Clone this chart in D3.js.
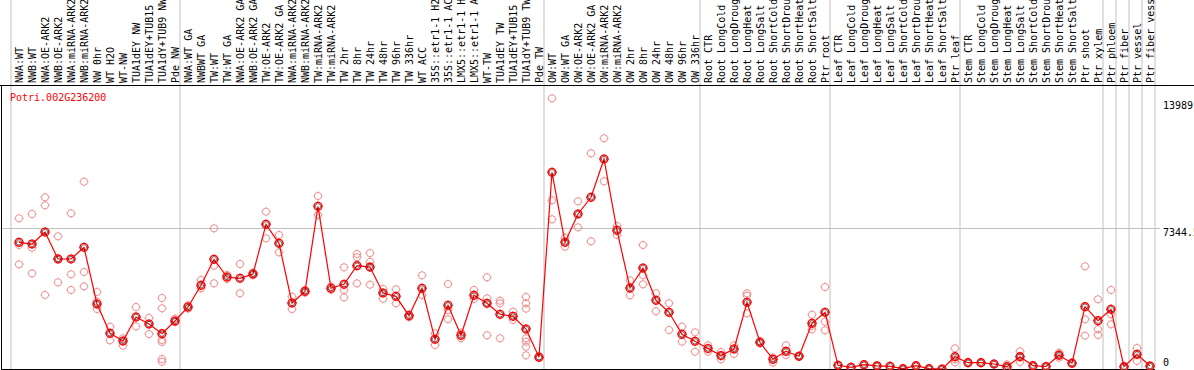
<!DOCTYPE html>
<html>
<head>
<meta charset="utf-8">
<script src="https://cdn.jsdelivr.net/npm/d3@7"></script>
<style>
  body { margin: 0; background: #fff; }
  text { font-family: "DejaVu Sans Mono", "Liberation Mono", monospace; font-size: 10px; }
</style>
</head>
<body>
<div id="wrapper"></div>
<script>
// gen naam en de kolommen (monsters)
const geneName = "Potri.002G236200";

const categories = [
  "NWA:WT", "NWB:WT", "NWA:OE-ARK2", "NWB:OE-ARK2", "NWA:miRNA-ARK2", "NWB:miRNA-ARK2",
  "NW 0hr", "WT H2O", "WT-NW", "TUA1dEY NW", "TUA1dEY+TUB15 NW", "TUA1dY+TUB9 NW", "Pde NW",
  "NWA:WT GA", "NWBWT GA", "TW:WT", "TW:WT GA", "NWA:OE-ARK2 GA", "NWB:OE-ARK2 GA",
  "TW:OE-ARK2", "TW:OE-ARK2 GA", "NWA:miRNA-ARK2 GA", "NWB:miRNA-ARK2 GA", "TW:miRNA-ARK2",
  "TW:miRNA-ARK2 GA", "TW 2hr", "TW 8hr", "TW 24hr", "TW 48hr", "TW 96hr", "TW 336hr",
  "WT ACC", "35S::etr1-1 H2O", "35S::etr1-1 ACC", "LMX5::etr1-1 H2O", "LMX5::etr1-1 ACC",
  "WT-TW", "TUA1dEY TW", "TUA1dEY+TUB15 TW", "TUA1dY+TUB9 TW", "Pde TW",
  "OW:WT", "OW:WT GA", "OW:OE-ARK2", "OW:OE-ARK2 GA", "OW:miRNA-ARK2", "OW:miRNA-ARK2 GA",
  "OW 2hr", "OW 8hr", "OW 24hr", "OW 48hr", "OW 96hr", "OW 336hr",
  "Root CTR", "Root LongCold", "Root LongDrought", "Root LongHeat", "Root LongSalt",
  "Root ShortCold", "Root ShortDrought", "Root ShortHeat", "Root ShortSalt", "Ptr root",
  "Leaf CTR", "Leaf LongCold", "Leaf LongDrought", "Leaf LongHeat", "Leaf LongSalt",
  "Leaf ShortCold", "Leaf ShortDrought", "Leaf ShortHeat", "Leaf ShortSalt", "Ptr leaf",
  "Stem CTR", "Stem LongCold", "Stem LongDrought", "Stem LongHeat", "Stem LongSalt",
  "Stem ShortCold", "Stem ShortDrought", "Stem ShortHeat", "Stem ShortSalt",
  "Ptr shoot", "Ptr xylem", "Ptr phloem", "Ptr fiber", "Ptr vessel", "Ptr fiber vessel"
];

// kolommen waar een verticale scheidingslijn begint
const groupStarts = ["NWA:WT", "NWA:WT GA", "OW:WT", "Root CTR", "Leaf CTR", "Stem CTR",
  "Ptr phloem", "Ptr fiber", "Ptr vessel", "Ptr fiber vessel"];

// gemiddelde expressie per kolom
const means = [
  6614, 6525, 7151, 5742, 5742, 6353, 3393, 1863, 1462, 2714, 2349, 1843, 2506,
  3236, 4369, 5726, 4802, 4734, 4959, 7553, 6561, 3445, 4054, 8492, 4212, 4421, 5392, 5320,
  3967, 3795, 2782, 4212, 1550, 3325, 1759, 3847, 3429, 2855, 2751, 2088, 615,
  10268, 6614, 8091, 8963, 10962, 7240, 4228, 5272, 3586, 2960, 1811, 1446,
  1070, 700, 1044, 3482, 1394, 506, 924, 663, 2386, 2960,
  193, 89, 224, 165, 141, 16, 172, 16, 0, 642,
  329, 329, 261, 120, 642, 172, 130, 720, 305,
  3252, 2521, 3116, 120, 767, 157
];

// losse replicaten per kolom
const replicates = [
  [7866, 6473, 5465], [8091, 6332, 4995], [8963, 8545, 3863], [6927, 5773, 4526],
  [8127, 4943, 4124], [9777, 5063, 4317], [4019, 3515, 3132], [2208, 1498], [1603, 1216],
  [3236, 2229], [2662, 1827], [3706, 3168, 1514, 1409, 522, 381], [2626, 2450],
  [3325, 3150], [4646, 4213], [7344, 5392, 4473], [4907, 4700], [5481, 3951], [5029, 4900],
  [8211, 6822], [6995, 6091], [3774, 3132], [4124, 3980], [9031, 8039], [4300, 4130],
  [5309, 4124, 3743], [6003, 5831, 4473], [6050, 5590, 4400], [4176, 3670], [4160, 3429],
  [2850, 2700], [4891, 3863], [1863, 1253], [4437, 3080, 2594], [1603, 1900], [4124, 3654],
  [4787, 3690, 1759], [3565, 3429, 1603], [2991, 2558],
  [3758, 3429, 3148, 1603, 1425, 1164, 715], [650, 580],
  [14131, 8806, 7814], [6854, 6384], [8754, 7397], [11260, 6666], [12043, 9798], [7465, 6995],
  [4630, 3847], [6473, 4891, 4421], [3951, 3012], [3429, 2036], [2208, 1425], [1916, 903],
  [1237, 903], [887, 506], [1237, 783], [3951, 3827, 2907], [1450, 1340], [329, 600],
  [1237, 731], [663, 700], [2835, 2072, 2250], [4280, 2469, 2020],
  [193], [89], [224], [165], [141], [16], [172], [16], [0], [1080, 350, 500],
  [329], [329], [261], [245, 50], [924, 365, 640], [172], [130], [851, 590, 720], [305],
  [5361, 2594, 1738], [3638, 2072, 1775], [4124, 2855, 2333], [120], [1096, 418], [157]
];

// y-as labels
const yTickValues = [0, 7344.5, 13989];
const yTickLabels = ["0", "7344.5", "13989"];
const yGridValues = [7344.5];

const width = 1194;
const height = 370;
const headerBottom = 85;
const plotBottom = 369;

const svg = d3.select("#wrapper")
  .append("svg")
  .attr("width", width)
  .attr("height", height);

const x = d3.scaleBand()
  .domain(categories)
  .range([11, 11 + categories.length * 13])
  .padding(0);

const y = d3.scaleLinear()
  .domain([0, 13989])
  .range([plotBottom, 101]);

// punt net rechts van het midden van de band
const cx = d => x(d) + x.bandwidth() / 2 + 1.5;

// verticale scheidingslijnen (ook door de kop)
const gridXs = groupStarts.map(c => x(c)).concat([x.range()[1]]);
svg.append("g")
  .selectAll("line")
  .data(gridXs)
  .join("line")
    .attr("x1", d => d).attr("x2", d => d)
    .attr("y1", 0).attr("y2", plotBottom)
    .attr("stroke", "#c0c0c0")
    .attr("stroke-width", 1);

// horizontale lijn
svg.append("g")
  .selectAll("line")
  .data(yGridValues)
  .join("line")
    .attr("x1", 1).attr("x2", 1160)
    .attr("y1", d => Math.round(y(d)) + 0.5).attr("y2", d => Math.round(y(d)) + 0.5)
    .attr("stroke", "#c0c0c0");

// kaderlijnen
svg.append("line").attr("x1", 0).attr("x2", width).attr("y1", headerBottom + 0.5).attr("y2", headerBottom + 0.5).attr("stroke", "#000");
svg.append("line").attr("x1", 1.5).attr("x2", 1.5).attr("y1", headerBottom).attr("y2", plotBottom + 1).attr("stroke", "#000");
svg.append("line").attr("x1", 1).attr("x2", x.range()[1]).attr("y1", plotBottom + 0.5).attr("y2", plotBottom + 0.5).attr("stroke", "#000");

// kolomnamen, gedraaid (bovenkant valt weg, net als in het origineel)
svg.append("g")
  .selectAll("text")
  .data(categories)
  .join("text")
    .attr("transform", d => `translate(${cx(d) + 3.5},83) rotate(-90)`)
    .attr("fill", "#000")
    .text(d => d);

// titel
svg.append("text")
  .attr("x", 10).attr("y", 101)
  .attr("fill", "#ff0000")
  .text(geneName);

// y labels rechts
svg.append("g")
  .selectAll("text")
  .data(yTickValues)
  .join("text")
    .attr("x", 1163)
    .attr("y", d => d === 0 ? plotBottom - 3 : y(d) + 8)
    .attr("fill", "#000")
    .text((d, i) => yTickLabels[i]);

// markers met kleine streepjes
const marker = (g, r, color, sw) => {
  g.append("circle").attr("r", r).attr("fill", "none").attr("stroke", color).attr("stroke-width", sw);
  [[0, -1], [0, 1], [-1, 0], [1, 0]].forEach(([dx, dy]) => {
    g.append("line")
      .attr("x1", dx * r).attr("y1", dy * r)
      .attr("x2", dx * (r + 1)).attr("y2", dy * (r + 1))
      .attr("stroke", color).attr("stroke-width", 0.9);
  });
};

const repData = categories.flatMap((c, i) => replicates[i].map(v => ({ c, v })));
svg.append("g")
  .selectAll("g")
  .data(repData)
  .join("g")
    .attr("transform", d => `translate(${cx(d.c)},${y(d.v)})`)
    .each(function () { marker(d3.select(this), 3.6, "#ee9090", 1); });

// lijn door de gemiddelden
const line = d3.line()
  .x((d, i) => cx(categories[i]))
  .y(d => y(d));

svg.append("path")
  .datum(means)
  .attr("d", line)
  .attr("fill", "none")
  .attr("stroke", "#ff0000")
  .attr("stroke-width", 1.2);

svg.append("g")
  .selectAll("g")
  .data(means)
  .join("g")
    .attr("transform", (d, i) => `translate(${cx(categories[i])},${y(d)})`)
    .each(function () {
      const g = d3.select(this);
      marker(g, 3.9, "#ff0000", 1.4);
      g.append("circle").attr("r", 2.7).attr("fill", "none").attr("stroke", "#300").attr("stroke-width", 0.6);
    });
</script>
</body>
</html>
